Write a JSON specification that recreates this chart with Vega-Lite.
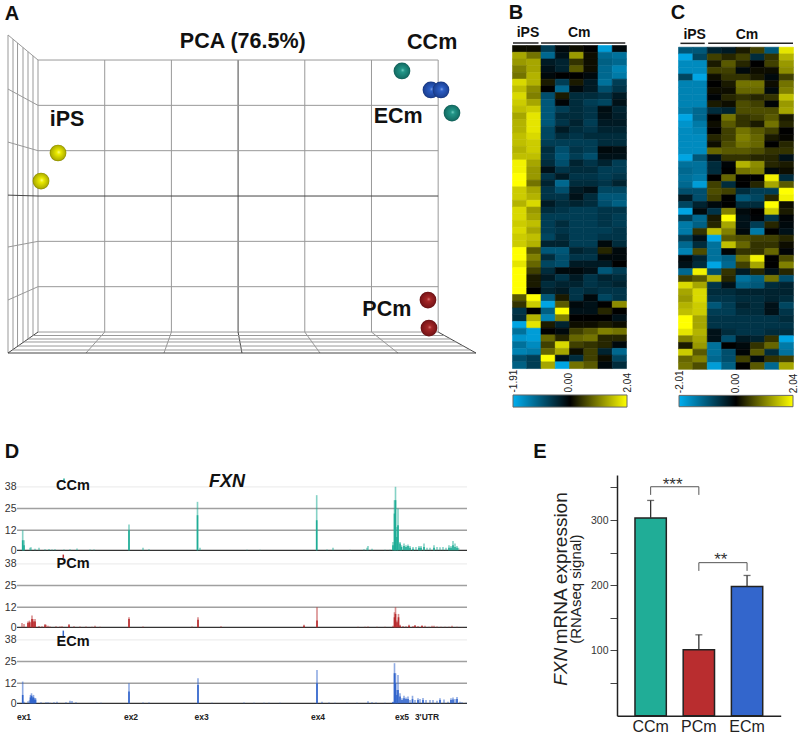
{"$schema":"https://vega.github.io/schema/vega-lite/v6.json","padding":0,"spacing":0,"bounds":"flush","columns":4,
"config":{"font":"Liberation Sans","view":{"stroke":null}},
"concat":[
{"width":512,"height":440,"layer":[
{"data":{"values":[
{"x":0,"y":0,"x2":0,"y2":6,"m":0},{"x":1,"y":0,"x2":1,"y2":6,"m":0},{"x":2,"y":0,"x2":2,"y2":6,"m":0},{"x":3,"y":0,"x2":3,"y2":6,"m":1},{"x":4,"y":0,"x2":4,"y2":6,"m":0},{"x":5,"y":0,"x2":5,"y2":6,"m":0},{"x":6,"y":0,"x2":6,"y2":6,"m":0},
{"x":0,"y":0,"x2":6,"y2":0,"m":0},{"x":0,"y":1,"x2":6,"y2":1,"m":0},{"x":0,"y":2,"x2":6,"y2":2,"m":0},{"x":0,"y":3,"x2":6,"y2":3,"m":1},{"x":0,"y":4,"x2":6,"y2":4,"m":0},{"x":0,"y":5,"x2":6,"y2":5,"m":0},{"x":0,"y":6,"x2":6,"y2":6,"m":0},
{"x":-0.45,"y":-0.463,"x2":-0.45,"y2":6.552,"m":0},{"x":-0.375,"y":-0.386,"x2":-0.375,"y2":6.46,"m":0},{"x":-0.307,"y":-0.316,"x2":-0.307,"y2":6.376,"m":0},{"x":-0.225,"y":-0.232,"x2":-0.225,"y2":6.276,"m":0},{"x":-0.15,"y":-0.154,"x2":-0.15,"y2":6.184,"m":0},{"x":-0.075,"y":-0.077,"x2":-0.075,"y2":6.092,"m":0},
{"x":-0.45,"y":6.552,"x2":0,"y2":6,"m":0},{"x":-0.45,"y":5.36,"x2":0,"y2":5,"m":0},{"x":-0.45,"y":4.19,"x2":0,"y2":4,"m":0},{"x":-0.45,"y":3.02,"x2":0,"y2":3,"m":1},{"x":-0.45,"y":1.875,"x2":0,"y2":2,"m":0},{"x":-0.45,"y":0.706,"x2":0,"y2":1,"m":0},{"x":-0.45,"y":-0.463,"x2":0,"y2":0,"m":1},
{"x":1,"y":0,"x2":0.72,"y2":-0.463,"m":0},{"x":2,"y":0,"x2":1.889,"y2":-0.463,"m":0},{"x":3,"y":0,"x2":3.058,"y2":-0.463,"m":1},{"x":4,"y":0,"x2":4.228,"y2":-0.463,"m":0},{"x":5,"y":0,"x2":5.397,"y2":-0.463,"m":0},{"x":6,"y":0,"x2":6.567,"y2":-0.463,"m":1},
{"x":-0.075,"y":-0.077,"x2":6.094,"y2":-0.077,"m":0},{"x":-0.15,"y":-0.154,"x2":6.189,"y2":-0.154,"m":0},{"x":-0.214,"y":-0.22,"x2":6.27,"y2":-0.22,"m":0},{"x":-0.3,"y":-0.309,"x2":6.378,"y2":-0.309,"m":0},{"x":-0.386,"y":-0.397,"x2":6.486,"y2":-0.397,"m":0},{"x":-0.45,"y":-0.463,"x2":6.567,"y2":-0.463,"m":1}
]},"mark":{"type":"rule","strokeWidth":1},"encoding":{"x":{"field":"x","type":"quantitative","scale":{"domain":[-0.57,7.107],"nice":false},"axis":null},"y":{"field":"y","type":"quantitative","scale":{"domain":[-2.382,7.324],"nice":false},"axis":null},"x2":{"field":"x2"},"y2":{"field":"y2"},"color":{"field":"m","type":"nominal","scale":{"domain":[0,1],"range":["#999999","#444444"]},"legend":null}}},
{"data":{"values":[{"x":5.457,"y":5.758},{"x":6.207,"y":4.831}]},"mark":{"type":"point","filled":true,"size":280,"opacity":1,"fill":{"gradient":"radial","x1":0.55,"y1":0.45,"r1":0,"x2":0.5,"y2":0.5,"r2":0.55,"stops":[{"offset":0,"color":"#8fe0d4"},{"offset":0.18,"color":"#23988a"},{"offset":0.8,"color":"#146f66"},{"offset":1,"color":"#0b4a44"}]}},"encoding":{"x":{"field":"x","type":"quantitative","scale":{"domain":[-0.57,7.107],"nice":false},"axis":null},"y":{"field":"y","type":"quantitative","scale":{"domain":[-2.382,7.324],"nice":false},"axis":null}}},
{"data":{"values":[{"x":5.892,"y":5.339},{"x":6.042,"y":5.339}]},"mark":{"type":"point","filled":true,"size":280,"opacity":1,"fill":{"gradient":"radial","x1":0.55,"y1":0.45,"r1":0,"x2":0.5,"y2":0.5,"r2":0.55,"stops":[{"offset":0,"color":"#9db8f2"},{"offset":0.18,"color":"#2d60c8"},{"offset":0.8,"color":"#1c4296"},{"offset":1,"color":"#0f2660"}]}},"encoding":{"x":{"field":"x","type":"quantitative","scale":{"domain":[-0.57,7.107],"nice":false},"axis":null},"y":{"field":"y","type":"quantitative","scale":{"domain":[-2.382,7.324],"nice":false},"axis":null}}},
{"data":{"values":[{"x":0.3,"y":3.949},{"x":0.045,"y":3.331}]},"mark":{"type":"point","filled":true,"size":280,"opacity":1,"fill":{"gradient":"radial","x1":0.55,"y1":0.45,"r1":0,"x2":0.5,"y2":0.5,"r2":0.55,"stops":[{"offset":0,"color":"#ffffa0"},{"offset":0.2,"color":"#eeee00"},{"offset":0.8,"color":"#b0b000"},{"offset":1,"color":"#5c5c00"}]}},"encoding":{"x":{"field":"x","type":"quantitative","scale":{"domain":[-0.57,7.107],"nice":false},"axis":null},"y":{"field":"y","type":"quantitative","scale":{"domain":[-2.382,7.324],"nice":false},"axis":null}}},
{"data":{"values":[{"x":5.847,"y":0.706},{"x":5.862,"y":0.088}]},"mark":{"type":"point","filled":true,"size":280,"opacity":1,"fill":{"gradient":"radial","x1":0.55,"y1":0.45,"r1":0,"x2":0.5,"y2":0.5,"r2":0.55,"stops":[{"offset":0,"color":"#e89090"},{"offset":0.18,"color":"#a82828"},{"offset":0.8,"color":"#7a1518"},{"offset":1,"color":"#4a0a0c"}]}},"encoding":{"x":{"field":"x","type":"quantitative","scale":{"domain":[-0.57,7.107],"nice":false},"axis":null},"y":{"field":"y","type":"quantitative","scale":{"domain":[-2.382,7.324],"nice":false},"axis":null}}},
{"data":{"values":[{"x":3.07,"y":6.4,"t":"PCA (76.5%)"},{"x":5.91,"y":6.375,"t":"CCm"},{"x":5.4,"y":4.74,"t":"ECm"},{"x":0.435,"y":4.68,"t":"iPS"},{"x":5.23,"y":0.485,"t":"PCm"}]},"mark":{"type":"text","fontWeight":"bold","fontSize":21.5,"align":"center","baseline":"middle","color":"#111"},"encoding":{"x":{"field":"x","type":"quantitative","scale":{"domain":[-0.57,7.107],"nice":false},"axis":null},"y":{"field":"y","type":"quantitative","scale":{"domain":[-2.382,7.324],"nice":false},"axis":null},"text":{"field":"t"}}},
{"data":{"values":[{"x":-0.39,"y":7.015,"t":"A"}]},"mark":{"type":"text","fontWeight":"bold","fontSize":20,"align":"center","baseline":"middle","color":"#111"},"encoding":{"x":{"field":"x","type":"quantitative","scale":{"domain":[-0.57,7.107],"nice":false},"axis":null},"y":{"field":"y","type":"quantitative","scale":{"domain":[-2.382,7.324],"nice":false},"axis":null},"text":{"field":"t"}}}
]},
{"width":114,"height":440,"resolve":{"scale":{"x":"independent"}},"layer":[
{"data":{"values":[
{"r":0,"c":0,"v":0.1},{"r":0,"c":1,"v":0.1},{"r":0,"c":2,"v":-0.7},{"r":0,"c":3,"v":-0.1},{"r":0,"c":4,"v":0.1},{"r":0,"c":5,"v":0},{"r":0,"c":6,"v":-1.8},{"r":0,"c":7,"v":-0.1},
{"r":1,"c":0,"v":1.3},{"r":1,"c":1,"v":0.9},{"r":1,"c":2,"v":-1.2},{"r":1,"c":3,"v":-0.2},{"r":1,"c":4,"v":1.2},{"r":1,"c":5,"v":0.1},{"r":1,"c":6,"v":-1.2},{"r":1,"c":7,"v":-1.3},
{"r":2,"c":0,"v":1.2},{"r":2,"c":1,"v":1.3},{"r":2,"c":2,"v":-0.3},{"r":2,"c":3,"v":-0.4},{"r":2,"c":4,"v":0.4},{"r":2,"c":5,"v":0.1},{"r":2,"c":6,"v":-1.1},{"r":2,"c":7,"v":-1.2},
{"r":3,"c":0,"v":1},{"r":3,"c":1,"v":1.3},{"r":3,"c":2,"v":-0.2},{"r":3,"c":3,"v":-0.4},{"r":3,"c":4,"v":0.7},{"r":3,"c":5,"v":0.1},{"r":3,"c":6,"v":-1.2},{"r":3,"c":7,"v":-1.5},
{"r":4,"c":0,"v":0.9},{"r":4,"c":1,"v":1.4},{"r":4,"c":2,"v":-0.1},{"r":4,"c":3,"v":0},{"r":4,"c":4,"v":0},{"r":4,"c":5,"v":-0.1},{"r":4,"c":6,"v":-1.2},{"r":4,"c":7,"v":-1.4},
{"r":5,"c":0,"v":1.7},{"r":5,"c":1,"v":1.4},{"r":5,"c":2,"v":0.2},{"r":5,"c":3,"v":-0.7},{"r":5,"c":4,"v":0.2},{"r":5,"c":5,"v":-0.3},{"r":5,"c":6,"v":-1.3},{"r":5,"c":7,"v":-0.7},
{"r":6,"c":0,"v":1.5},{"r":6,"c":1,"v":1.1},{"r":6,"c":2,"v":0},{"r":6,"c":3,"v":-1.2},{"r":6,"c":4,"v":-0.1},{"r":6,"c":5,"v":-0.3},{"r":6,"c":6,"v":-0.9},{"r":6,"c":7,"v":-0.6},
{"r":7,"c":0,"v":1.7},{"r":7,"c":1,"v":1},{"r":7,"c":2,"v":-0.9},{"r":7,"c":3,"v":0.2},{"r":7,"c":4,"v":-0.5},{"r":7,"c":5,"v":-0.5},{"r":7,"c":6,"v":-0.6},{"r":7,"c":7,"v":-0.3},
{"r":8,"c":0,"v":1.6},{"r":8,"c":1,"v":1.3},{"r":8,"c":2,"v":-1},{"r":8,"c":3,"v":-0.05},{"r":8,"c":4,"v":-0.5},{"r":8,"c":5,"v":-0.7},{"r":8,"c":6,"v":-0.8},{"r":8,"c":7,"v":-0.2},
{"r":9,"c":0,"v":1.5},{"r":9,"c":1,"v":1.6},{"r":9,"c":2,"v":-1},{"r":9,"c":3,"v":-0.7},{"r":9,"c":4,"v":-0.5},{"r":9,"c":5,"v":-0.6},{"r":9,"c":6,"v":-0.15},{"r":9,"c":7,"v":-0.4},
{"r":10,"c":0,"v":1.3},{"r":10,"c":1,"v":1.8},{"r":10,"c":2,"v":-1},{"r":10,"c":3,"v":-0.5},{"r":10,"c":4,"v":-0.5},{"r":10,"c":5,"v":-0.6},{"r":10,"c":6,"v":-0.2},{"r":10,"c":7,"v":-0.35},
{"r":11,"c":0,"v":1.4},{"r":11,"c":1,"v":1.8},{"r":11,"c":2,"v":-1},{"r":11,"c":3,"v":-0.6},{"r":11,"c":4,"v":-0.4},{"r":11,"c":5,"v":-0.7},{"r":11,"c":6,"v":-0.3},{"r":11,"c":7,"v":-0.3},
{"r":12,"c":0,"v":1.4},{"r":12,"c":1,"v":1.8},{"r":12,"c":2,"v":-0.8},{"r":12,"c":3,"v":-0.3},{"r":12,"c":4,"v":-0.5},{"r":12,"c":5,"v":-0.6},{"r":12,"c":6,"v":-0.4},{"r":12,"c":7,"v":-0.4},
{"r":13,"c":0,"v":1.5},{"r":13,"c":1,"v":1.7},{"r":13,"c":2,"v":-0.8},{"r":13,"c":3,"v":-0.5},{"r":13,"c":4,"v":-0.6},{"r":13,"c":5,"v":-0.5},{"r":13,"c":6,"v":-0.5},{"r":13,"c":7,"v":-0.5},
{"r":14,"c":0,"v":1.5},{"r":14,"c":1,"v":1.6},{"r":14,"c":2,"v":-0.7},{"r":14,"c":3,"v":-0.7},{"r":14,"c":4,"v":-0.7},{"r":14,"c":5,"v":-0.7},{"r":14,"c":6,"v":-0.5},{"r":14,"c":7,"v":-0.5},
{"r":15,"c":0,"v":1.4},{"r":15,"c":1,"v":1.6},{"r":15,"c":2,"v":-0.5},{"r":15,"c":3,"v":-0.9},{"r":15,"c":4,"v":-0.6},{"r":15,"c":5,"v":-0.7},{"r":15,"c":6,"v":-0.1},{"r":15,"c":7,"v":-0.15},
{"r":16,"c":0,"v":1.5},{"r":16,"c":1,"v":1.5},{"r":16,"c":2,"v":-0.6},{"r":16,"c":3,"v":-1},{"r":16,"c":4,"v":-0.7},{"r":16,"c":5,"v":-0.9},{"r":16,"c":6,"v":-0.2},{"r":16,"c":7,"v":-0.2},
{"r":17,"c":0,"v":1.9},{"r":17,"c":1,"v":1.3},{"r":17,"c":2,"v":-0.5},{"r":17,"c":3,"v":-0.9},{"r":17,"c":4,"v":-0.4},{"r":17,"c":5,"v":-0.6},{"r":17,"c":6,"v":-0.4},{"r":17,"c":7,"v":-0.7},
{"r":18,"c":0,"v":1.9},{"r":18,"c":1,"v":1.2},{"r":18,"c":2,"v":-0.2},{"r":18,"c":3,"v":-0.6},{"r":18,"c":4,"v":-0.5},{"r":18,"c":5,"v":-0.5},{"r":18,"c":6,"v":-0.7},{"r":18,"c":7,"v":-0.7},
{"r":19,"c":0,"v":2},{"r":19,"c":1,"v":1.2},{"r":19,"c":2,"v":-0.6},{"r":19,"c":3,"v":-0.3},{"r":19,"c":4,"v":-0.6},{"r":19,"c":5,"v":-0.6},{"r":19,"c":6,"v":-0.7},{"r":19,"c":7,"v":-0.6},
{"r":20,"c":0,"v":2},{"r":20,"c":1,"v":0.9},{"r":20,"c":2,"v":-0.4},{"r":20,"c":3,"v":-1.2},{"r":20,"c":4,"v":-0.5},{"r":20,"c":5,"v":-0.5},{"r":20,"c":6,"v":-0.6},{"r":20,"c":7,"v":-0.4},
{"r":21,"c":0,"v":1.6},{"r":21,"c":1,"v":1.3},{"r":21,"c":2,"v":-0.6},{"r":21,"c":3,"v":-0.9},{"r":21,"c":4,"v":-0.3},{"r":21,"c":5,"v":-0.2},{"r":21,"c":6,"v":-0.8},{"r":21,"c":7,"v":-0.8},
{"r":22,"c":0,"v":1.6},{"r":22,"c":1,"v":1.4},{"r":22,"c":2,"v":-0.6},{"r":22,"c":3,"v":-0.6},{"r":22,"c":4,"v":-0.2},{"r":22,"c":5,"v":-0.5},{"r":22,"c":6,"v":-1},{"r":22,"c":7,"v":-1},
{"r":23,"c":0,"v":1.4},{"r":23,"c":1,"v":1.7},{"r":23,"c":2,"v":-0.3},{"r":23,"c":3,"v":-0.5},{"r":23,"c":4,"v":-0.4},{"r":23,"c":5,"v":-0.5},{"r":23,"c":6,"v":-0.9},{"r":23,"c":7,"v":-1.1},
{"r":24,"c":0,"v":1.7},{"r":24,"c":1,"v":1.2},{"r":24,"c":2,"v":-0.5},{"r":24,"c":3,"v":-0.6},{"r":24,"c":4,"v":-0.7},{"r":24,"c":5,"v":-0.7},{"r":24,"c":6,"v":-0.6},{"r":24,"c":7,"v":-0.6},
{"r":25,"c":0,"v":1.7},{"r":25,"c":1,"v":1.3},{"r":25,"c":2,"v":-0.7},{"r":25,"c":3,"v":-0.7},{"r":25,"c":4,"v":-0.7},{"r":25,"c":5,"v":-0.7},{"r":25,"c":6,"v":-0.6},{"r":25,"c":7,"v":-0.7},
{"r":26,"c":0,"v":1.6},{"r":26,"c":1,"v":1.5},{"r":26,"c":2,"v":-0.7},{"r":26,"c":3,"v":-0.5},{"r":26,"c":4,"v":-0.7},{"r":26,"c":5,"v":-0.7},{"r":26,"c":6,"v":-0.6},{"r":26,"c":7,"v":-0.7},
{"r":27,"c":0,"v":1.7},{"r":27,"c":1,"v":1.3},{"r":27,"c":2,"v":-0.7},{"r":27,"c":3,"v":-0.6},{"r":27,"c":4,"v":-0.7},{"r":27,"c":5,"v":-0.7},{"r":27,"c":6,"v":-0.7},{"r":27,"c":7,"v":-0.6},
{"r":28,"c":0,"v":1.6},{"r":28,"c":1,"v":1.5},{"r":28,"c":2,"v":-0.8},{"r":28,"c":3,"v":-0.5},{"r":28,"c":4,"v":-0.7},{"r":28,"c":5,"v":-0.7},{"r":28,"c":6,"v":-0.6},{"r":28,"c":7,"v":-0.6},
{"r":29,"c":0,"v":1.6},{"r":29,"c":1,"v":1.4},{"r":29,"c":2,"v":-0.4},{"r":29,"c":3,"v":-0.4},{"r":29,"c":4,"v":-0.7},{"r":29,"c":5,"v":-0.7},{"r":29,"c":6,"v":-0.1},{"r":29,"c":7,"v":-0.5},
{"r":30,"c":0,"v":2},{"r":30,"c":1,"v":0.7},{"r":30,"c":2,"v":-1},{"r":30,"c":3,"v":-1},{"r":30,"c":4,"v":-0.4},{"r":30,"c":5,"v":-0.5},{"r":30,"c":6,"v":0.3},{"r":30,"c":7,"v":-0.1},
{"r":31,"c":0,"v":2},{"r":31,"c":1,"v":1},{"r":31,"c":2,"v":-0.5},{"r":31,"c":3,"v":-0.9},{"r":31,"c":4,"v":-0.6},{"r":31,"c":5,"v":-0.6},{"r":31,"c":6,"v":-0.1},{"r":31,"c":7,"v":-0.1},
{"r":32,"c":0,"v":1.8},{"r":32,"c":1,"v":0.8},{"r":32,"c":2,"v":-0.8},{"r":32,"c":3,"v":-0.9},{"r":32,"c":4,"v":-0.3},{"r":32,"c":5,"v":-0.3},{"r":32,"c":6,"v":-0.3},{"r":32,"c":7,"v":0},
{"r":33,"c":0,"v":2},{"r":33,"c":1,"v":0.5},{"r":33,"c":2,"v":-0.5},{"r":33,"c":3,"v":-0.1},{"r":33,"c":4,"v":-0.1},{"r":33,"c":5,"v":-0.2},{"r":33,"c":6,"v":-1},{"r":33,"c":7,"v":-0.7},
{"r":34,"c":0,"v":2},{"r":34,"c":1,"v":0.2},{"r":34,"c":2,"v":-0.3},{"r":34,"c":3,"v":-0.6},{"r":34,"c":4,"v":-0.3},{"r":34,"c":5,"v":-0.6},{"r":34,"c":6,"v":-0.4},{"r":34,"c":7,"v":-0.5},
{"r":35,"c":0,"v":2},{"r":35,"c":1,"v":0.2},{"r":35,"c":2,"v":-0.5},{"r":35,"c":3,"v":-0.4},{"r":35,"c":4,"v":-0.4},{"r":35,"c":5,"v":-0.6},{"r":35,"c":6,"v":-0.5},{"r":35,"c":7,"v":-0.4},
{"r":36,"c":0,"v":2},{"r":36,"c":1,"v":0},{"r":36,"c":2,"v":-0.4},{"r":36,"c":3,"v":-0.3},{"r":36,"c":4,"v":-0.6},{"r":36,"c":5,"v":-0.5},{"r":36,"c":6,"v":-0.6},{"r":36,"c":7,"v":-0.6},
{"r":37,"c":0,"v":0.7},{"r":37,"c":1,"v":2},{"r":37,"c":2,"v":-1},{"r":37,"c":3,"v":0.2},{"r":37,"c":4,"v":-0.6},{"r":37,"c":5,"v":-0.1},{"r":37,"c":6,"v":-0.8},{"r":37,"c":7,"v":-0.6},
{"r":38,"c":0,"v":0.4},{"r":38,"c":1,"v":1.6},{"r":38,"c":2,"v":-1.9},{"r":38,"c":3,"v":0.7},{"r":38,"c":4,"v":-0.1},{"r":38,"c":5,"v":-0.2},{"r":38,"c":6,"v":0},{"r":38,"c":7,"v":1.1},
{"r":39,"c":0,"v":-0.6},{"r":39,"c":1,"v":0},{"r":39,"c":2,"v":-1.1},{"r":39,"c":3,"v":2},{"r":39,"c":4,"v":-0.2},{"r":39,"c":5,"v":-0.2},{"r":39,"c":6,"v":0.3},{"r":39,"c":7,"v":0},
{"r":40,"c":0,"v":-0.5},{"r":40,"c":1,"v":1.4},{"r":40,"c":2,"v":-1.5},{"r":40,"c":3,"v":1},{"r":40,"c":4,"v":0},{"r":40,"c":5,"v":0},{"r":40,"c":6,"v":0},{"r":40,"c":7,"v":-0.2},
{"r":41,"c":0,"v":-1.9},{"r":41,"c":1,"v":1.8},{"r":41,"c":2,"v":0.2},{"r":41,"c":3,"v":-0.4},{"r":41,"c":4,"v":0.1},{"r":41,"c":5,"v":0.1},{"r":41,"c":6,"v":0.2},{"r":41,"c":7,"v":0.1},
{"r":42,"c":0,"v":-1.3},{"r":42,"c":1,"v":-1.8},{"r":42,"c":2,"v":0},{"r":42,"c":3,"v":-0.1},{"r":42,"c":4,"v":0.5},{"r":42,"c":5,"v":0.7},{"r":42,"c":6,"v":1},{"r":42,"c":7,"v":0.9},
{"r":43,"c":0,"v":-1.7},{"r":43,"c":1,"v":-1.8},{"r":43,"c":2,"v":0.8},{"r":43,"c":3,"v":0.3},{"r":43,"c":4,"v":0.8},{"r":43,"c":5,"v":0.9},{"r":43,"c":6,"v":0.3},{"r":43,"c":7,"v":0.3},
{"r":44,"c":0,"v":-1.3},{"r":44,"c":1,"v":-1.6},{"r":44,"c":2,"v":0.5},{"r":44,"c":3,"v":1.7},{"r":44,"c":4,"v":0.5},{"r":44,"c":5,"v":0.4},{"r":44,"c":6,"v":0.3},{"r":44,"c":7,"v":-0.1},
{"r":45,"c":0,"v":-1.5},{"r":45,"c":1,"v":-1.4},{"r":45,"c":2,"v":0.8},{"r":45,"c":3,"v":1.3},{"r":45,"c":4,"v":0.1},{"r":45,"c":5,"v":0.5},{"r":45,"c":6,"v":-0.4},{"r":45,"c":7,"v":-1.2},
{"r":46,"c":0,"v":-0.9},{"r":46,"c":1,"v":-0.7},{"r":46,"c":2,"v":2},{"r":46,"c":3,"v":-0.2},{"r":46,"c":4,"v":-0.5},{"r":46,"c":5,"v":0.5},{"r":46,"c":6,"v":0.1},{"r":46,"c":7,"v":-0.8},
{"r":47,"c":0,"v":-1.1},{"r":47,"c":1,"v":-0.7},{"r":47,"c":2,"v":1.3},{"r":47,"c":3,"v":-1.9},{"r":47,"c":4,"v":0.9},{"r":47,"c":5,"v":0.7},{"r":47,"c":6,"v":-0.1},{"r":47,"c":7,"v":-0.5}
]},"mark":{"type":"rect","strokeWidth":0.6},"encoding":{"x":{"field":"c","bin":{"step":1,"extent":[0,8]},"type":"quantitative","scale":{"domain":[0,8],"nice":false},"axis":null},"y":{"field":"r","bin":{"step":1,"extent":[0,48]},"type":"quantitative","scale":{"domain":[-6.687,58.69],"nice":false,"reverse":true},"axis":null},"color":{"field":"v","type":"quantitative","scale":{"domain":[-2,0,2],"range":["#00AEEF","#000000","#FFFF00"],"interpolate":"rgb"},"legend":null},"stroke":{"field":"v","type":"quantitative","scale":{"domain":[-2,0,2],"range":["#00AEEF","#000000","#FFFF00"],"interpolate":"rgb"},"legend":null}}},
{"data":{"values":[{"a":0.07,"b":1.86,"y":-0.3},{"a":2.04,"b":7.95,"y":-0.3}]},"mark":{"type":"rule","strokeWidth":1.5,"color":"#222"},"encoding":{"x":{"field":"a","type":"quantitative","scale":{"domain":[0,8],"nice":false},"axis":null},"x2":{"field":"b"},"y":{"field":"y","type":"quantitative","scale":{"domain":[-6.687,58.69],"nice":false,"reverse":true},"axis":null}}},
{"data":{"values":[{"x":1.12,"y":-1.78,"t":"iPS"},{"x":4.72,"y":-1.78,"t":"Cm"}]},"mark":{"type":"text","fontWeight":"bold","fontSize":14,"align":"center","baseline":"middle","color":"#111"},"encoding":{"x":{"field":"x","type":"quantitative","scale":{"domain":[0,8],"nice":false},"axis":null},"y":{"field":"y","type":"quantitative","scale":{"domain":[-6.687,58.69],"nice":false,"reverse":true},"axis":null},"text":{"field":"t"}}},
{"data":{"values":[{"x":0.28,"y":-4.75,"t":"B"}]},"mark":{"type":"text","fontWeight":"bold","fontSize":20,"align":"center","baseline":"middle","color":"#111"},"encoding":{"x":{"field":"x","type":"quantitative","scale":{"domain":[0,8],"nice":false},"axis":null},"y":{"field":"y","type":"quantitative","scale":{"domain":[-6.687,58.69],"nice":false,"reverse":true},"axis":null},"text":{"field":"t"}}},
{"data":{"values":[{"lo":-1.91,"hi":2.04,"a":52,"b":53.8}]},"mark":{"type":"rect","stroke":"#666","fill":{"gradient":"linear","x1":0,"x2":1,"y1":0,"y2":0,"stops":[{"offset":0,"color":"#00AEEF"},{"offset":0.5,"color":"#000000"},{"offset":1,"color":"#FFFF00"}]}},"encoding":{"x":{"field":"lo","type":"quantitative","scale":{"domain":[-1.91,2.04],"nice":false,"range":[1,115]},"axis":{"orient":"top","offset":-395,"values":[-1.91,0,2.04],"format":".2f","labelExpr":"datum.value<0?'-1.91':datum.label","labelAngle":-90,"title":null,"domain":false,"ticks":false,"grid":false,"labelFontSize":10,"labelPadding":3,"labelColor":"#222"}},"x2":{"field":"hi"},"y":{"field":"a","type":"quantitative","scale":{"domain":[-6.687,58.69],"nice":false,"reverse":true},"axis":null},"y2":{"field":"b"}}}
]},
{"width":52,"height":0,"data":{"values":[]},"mark":"point","encoding":{}},
{"width":115,"height":440,"resolve":{"scale":{"x":"independent"}},"layer":[
{"data":{"values":[
{"r":0,"c":0,"v":-1},{"r":0,"c":1,"v":-1},{"r":0,"c":2,"v":-0.4},{"r":0,"c":3,"v":-0.3},{"r":0,"c":4,"v":0.2},{"r":0,"c":5,"v":0.5},{"r":0,"c":6,"v":-1},{"r":0,"c":7,"v":1.8},
{"r":1,"c":0,"v":-1.9},{"r":1,"c":1,"v":-0.8},{"r":1,"c":2,"v":0.5},{"r":1,"c":3,"v":0.3},{"r":1,"c":4,"v":0.5},{"r":1,"c":5,"v":-0.5},{"r":1,"c":6,"v":0.4},{"r":1,"c":7,"v":1.4},
{"r":2,"c":0,"v":-1.6},{"r":2,"c":1,"v":-1.6},{"r":2,"c":2,"v":0.2},{"r":2,"c":3,"v":0.7},{"r":2,"c":4,"v":0.3},{"r":2,"c":5,"v":0},{"r":2,"c":6,"v":0.5},{"r":2,"c":7,"v":1.2},
{"r":3,"c":0,"v":-1.6},{"r":3,"c":1,"v":-1.6},{"r":3,"c":2,"v":0.5},{"r":3,"c":3,"v":0.5},{"r":3,"c":4,"v":-0.1},{"r":3,"c":5,"v":0.1},{"r":3,"c":6,"v":0.1},{"r":3,"c":7,"v":1.1},
{"r":4,"c":0,"v":-0.8},{"r":4,"c":1,"v":-1.9},{"r":4,"c":2,"v":0.1},{"r":4,"c":3,"v":0.4},{"r":4,"c":4,"v":0.4},{"r":4,"c":5,"v":0.2},{"r":4,"c":6,"v":-0.1},{"r":4,"c":7,"v":0.5},
{"r":5,"c":0,"v":-1.5},{"r":5,"c":1,"v":-1.5},{"r":5,"c":2,"v":0},{"r":5,"c":3,"v":0.2},{"r":5,"c":4,"v":0.9},{"r":5,"c":5,"v":0.9},{"r":5,"c":6,"v":0.1},{"r":5,"c":7,"v":0.9},
{"r":6,"c":0,"v":-1.5},{"r":6,"c":1,"v":-1.5},{"r":6,"c":2,"v":0.1},{"r":6,"c":3,"v":0.1},{"r":6,"c":4,"v":0.8},{"r":6,"c":5,"v":0.8},{"r":6,"c":6,"v":-0.1},{"r":6,"c":7,"v":1},
{"r":7,"c":0,"v":-1.5},{"r":7,"c":1,"v":-1.5},{"r":7,"c":2,"v":-0.05},{"r":7,"c":3,"v":0.3},{"r":7,"c":4,"v":0.4},{"r":7,"c":5,"v":0.3},{"r":7,"c":6,"v":0.4},{"r":7,"c":7,"v":1.5},
{"r":8,"c":0,"v":-1.5},{"r":8,"c":1,"v":-1.5},{"r":8,"c":2,"v":0.2},{"r":8,"c":3,"v":0.1},{"r":8,"c":4,"v":0.6},{"r":8,"c":5,"v":0.5},{"r":8,"c":6,"v":-0.05},{"r":8,"c":7,"v":1.2},
{"r":9,"c":0,"v":-1.4},{"r":9,"c":1,"v":-1.2},{"r":9,"c":2,"v":-0.5},{"r":9,"c":3,"v":-0.4},{"r":9,"c":4,"v":0.6},{"r":9,"c":5,"v":0.6},{"r":9,"c":6,"v":0.6},{"r":9,"c":7,"v":1.3},
{"r":10,"c":0,"v":-1.9},{"r":10,"c":1,"v":-1.2},{"r":10,"c":2,"v":0},{"r":10,"c":3,"v":0.9},{"r":10,"c":4,"v":0.4},{"r":10,"c":5,"v":0.5},{"r":10,"c":6,"v":0.7},{"r":10,"c":7,"v":0.2},
{"r":11,"c":0,"v":-1.7},{"r":11,"c":1,"v":-1.4},{"r":11,"c":2,"v":0.1},{"r":11,"c":3,"v":0.7},{"r":11,"c":4,"v":0.4},{"r":11,"c":5,"v":0.2},{"r":11,"c":6,"v":0.9},{"r":11,"c":7,"v":0.3},
{"r":12,"c":0,"v":-1.6},{"r":12,"c":1,"v":-1.5},{"r":12,"c":2,"v":0},{"r":12,"c":3,"v":0.5},{"r":12,"c":4,"v":0.9},{"r":12,"c":5,"v":0.7},{"r":12,"c":6,"v":0.5},{"r":12,"c":7,"v":0},
{"r":13,"c":0,"v":-1.6},{"r":13,"c":1,"v":-1.6},{"r":13,"c":2,"v":0.3},{"r":13,"c":3,"v":0.5},{"r":13,"c":4,"v":1},{"r":13,"c":5,"v":0.8},{"r":13,"c":6,"v":0.2},{"r":13,"c":7,"v":0.05},
{"r":14,"c":0,"v":-1.6},{"r":14,"c":1,"v":-1.6},{"r":14,"c":2,"v":0.1},{"r":14,"c":3,"v":0.6},{"r":14,"c":4,"v":0.9},{"r":14,"c":5,"v":0.8},{"r":14,"c":6,"v":0},{"r":14,"c":7,"v":0.3},
{"r":15,"c":0,"v":-1.6},{"r":15,"c":1,"v":-1.6},{"r":15,"c":2,"v":0.8},{"r":15,"c":3,"v":0.7},{"r":15,"c":4,"v":0.7},{"r":15,"c":5,"v":0.6},{"r":15,"c":6,"v":0.4},{"r":15,"c":7,"v":0.4},
{"r":16,"c":0,"v":-1.9},{"r":16,"c":1,"v":-1},{"r":16,"c":2,"v":-0.2},{"r":16,"c":3,"v":0.4},{"r":16,"c":4,"v":0.4},{"r":16,"c":5,"v":0.3},{"r":16,"c":6,"v":0.3},{"r":16,"c":7,"v":-0.2},
{"r":17,"c":0,"v":-1.3},{"r":17,"c":1,"v":-1.3},{"r":17,"c":2,"v":-0.5},{"r":17,"c":3,"v":-0.05},{"r":17,"c":4,"v":1.4},{"r":17,"c":5,"v":1.1},{"r":17,"c":6,"v":0.3},{"r":17,"c":7,"v":0.2},
{"r":18,"c":0,"v":-1.2},{"r":18,"c":1,"v":-1.3},{"r":18,"c":2,"v":-0.5},{"r":18,"c":3,"v":0},{"r":18,"c":4,"v":0.9},{"r":18,"c":5,"v":1},{"r":18,"c":6,"v":-0.1},{"r":18,"c":7,"v":0.1},
{"r":19,"c":0,"v":-1.3},{"r":19,"c":1,"v":-1.4},{"r":19,"c":2,"v":0},{"r":19,"c":3,"v":0.8},{"r":19,"c":4,"v":0},{"r":19,"c":5,"v":0},{"r":19,"c":6,"v":1.9},{"r":19,"c":7,"v":-0.5},
{"r":20,"c":0,"v":-1.2},{"r":20,"c":1,"v":-1.8},{"r":20,"c":2,"v":0.5},{"r":20,"c":3,"v":-0.5},{"r":20,"c":4,"v":0},{"r":20,"c":5,"v":0.3},{"r":20,"c":6,"v":1.3},{"r":20,"c":7,"v":0.7},
{"r":21,"c":0,"v":-0.9},{"r":21,"c":1,"v":-0.9},{"r":21,"c":2,"v":0.6},{"r":21,"c":3,"v":0.5},{"r":21,"c":4,"v":-0.5},{"r":21,"c":5,"v":-0.7},{"r":21,"c":6,"v":-0.7},{"r":21,"c":7,"v":2},
{"r":22,"c":0,"v":-0.3},{"r":22,"c":1,"v":-0.9},{"r":22,"c":2,"v":0.5},{"r":22,"c":3,"v":0},{"r":22,"c":4,"v":-1},{"r":22,"c":5,"v":-0.8},{"r":22,"c":6,"v":0.3},{"r":22,"c":7,"v":1.9},
{"r":23,"c":0,"v":-0.8},{"r":23,"c":1,"v":-0.4},{"r":23,"c":2,"v":-0.1},{"r":23,"c":3,"v":0},{"r":23,"c":4,"v":-0.5},{"r":23,"c":5,"v":-0.5},{"r":23,"c":6,"v":2},{"r":23,"c":7,"v":0.1},
{"r":24,"c":0,"v":-1.9},{"r":24,"c":1,"v":-0.1},{"r":24,"c":2,"v":-0.6},{"r":24,"c":3,"v":1},{"r":24,"c":4,"v":-0.1},{"r":24,"c":5,"v":0},{"r":24,"c":6,"v":1.6},{"r":24,"c":7,"v":0.2},
{"r":25,"c":0,"v":-0.7},{"r":25,"c":1,"v":-1.2},{"r":25,"c":2,"v":0.2},{"r":25,"c":3,"v":2},{"r":25,"c":4,"v":-0.2},{"r":25,"c":5,"v":-0.05},{"r":25,"c":6,"v":-0.6},{"r":25,"c":7,"v":-0.05},
{"r":26,"c":0,"v":-1.4},{"r":26,"c":1,"v":-1.1},{"r":26,"c":2,"v":0.3},{"r":26,"c":3,"v":1.3},{"r":26,"c":4,"v":-0.2},{"r":26,"c":5,"v":-0.7},{"r":26,"c":6,"v":0.3},{"r":26,"c":7,"v":-0.1},
{"r":27,"c":0,"v":-1.4},{"r":27,"c":1,"v":0.4},{"r":27,"c":2,"v":1.5},{"r":27,"c":3,"v":1},{"r":27,"c":4,"v":-0.1},{"r":27,"c":5,"v":-1.4},{"r":27,"c":6,"v":0},{"r":27,"c":7,"v":-0.2},
{"r":28,"c":0,"v":-0.7},{"r":28,"c":1,"v":-0.2},{"r":28,"c":2,"v":-1.9},{"r":28,"c":3,"v":0.7},{"r":28,"c":4,"v":0.6},{"r":28,"c":5,"v":0.5},{"r":28,"c":6,"v":0.5},{"r":28,"c":7,"v":0.3},
{"r":29,"c":0,"v":-1.2},{"r":29,"c":1,"v":-0.5},{"r":29,"c":2,"v":-1.3},{"r":29,"c":3,"v":1.5},{"r":29,"c":4,"v":0.8},{"r":29,"c":5,"v":0.4},{"r":29,"c":6,"v":0.4},{"r":29,"c":7,"v":0.1},
{"r":30,"c":0,"v":-1.5},{"r":30,"c":1,"v":0.6},{"r":30,"c":2,"v":-1.3},{"r":30,"c":3,"v":-0.05},{"r":30,"c":4,"v":0.4},{"r":30,"c":5,"v":0.4},{"r":30,"c":6,"v":0.8},{"r":30,"c":7,"v":-0.05},
{"r":31,"c":0,"v":-0.1},{"r":31,"c":1,"v":-0.4},{"r":31,"c":2,"v":-1.3},{"r":31,"c":3,"v":-1.1},{"r":31,"c":4,"v":0.9},{"r":31,"c":5,"v":1.9},{"r":31,"c":6,"v":0},{"r":31,"c":7,"v":0.6},
{"r":32,"c":0,"v":-0.2},{"r":32,"c":1,"v":-0.5},{"r":32,"c":2,"v":-1.9},{"r":32,"c":3,"v":-1.2},{"r":32,"c":4,"v":0.5},{"r":32,"c":5,"v":1.3},{"r":32,"c":6,"v":0},{"r":32,"c":7,"v":1},
{"r":33,"c":0,"v":-1.2},{"r":33,"c":1,"v":1.9},{"r":33,"c":2,"v":-0.9},{"r":33,"c":3,"v":0.4},{"r":33,"c":4,"v":-0.3},{"r":33,"c":5,"v":0.3},{"r":33,"c":6,"v":-0.2},{"r":33,"c":7,"v":0.3},
{"r":34,"c":0,"v":0.5},{"r":34,"c":1,"v":0.7},{"r":34,"c":2,"v":1.4},{"r":34,"c":3,"v":0.3},{"r":34,"c":4,"v":-1.3},{"r":34,"c":5,"v":-1.1},{"r":34,"c":6,"v":0.9},{"r":34,"c":7,"v":-0.9},
{"r":35,"c":0,"v":1.7},{"r":35,"c":1,"v":1.3},{"r":35,"c":2,"v":-0.6},{"r":35,"c":3,"v":-0.2},{"r":35,"c":4,"v":-1.1},{"r":35,"c":5,"v":-1},{"r":35,"c":6,"v":-0.5},{"r":35,"c":7,"v":-0.4},
{"r":36,"c":0,"v":1.3},{"r":36,"c":1,"v":1.7},{"r":36,"c":2,"v":-0.5},{"r":36,"c":3,"v":-0.5},{"r":36,"c":4,"v":-0.4},{"r":36,"c":5,"v":-0.4},{"r":36,"c":6,"v":-0.4},{"r":36,"c":7,"v":-0.4},
{"r":37,"c":0,"v":1.2},{"r":37,"c":1,"v":1.7},{"r":37,"c":2,"v":-0.6},{"r":37,"c":3,"v":-0.6},{"r":37,"c":4,"v":-0.5},{"r":37,"c":5,"v":-0.5},{"r":37,"c":6,"v":-0.4},{"r":37,"c":7,"v":-0.5},
{"r":38,"c":0,"v":1.4},{"r":38,"c":1,"v":1.6},{"r":38,"c":2,"v":-1},{"r":38,"c":3,"v":-0.7},{"r":38,"c":4,"v":-0.4},{"r":38,"c":5,"v":-0.5},{"r":38,"c":6,"v":-0.2},{"r":38,"c":7,"v":-0.8},
{"r":39,"c":0,"v":1.5},{"r":39,"c":1,"v":1.6},{"r":39,"c":2,"v":-0.7},{"r":39,"c":3,"v":-0.7},{"r":39,"c":4,"v":-0.5},{"r":39,"c":5,"v":-0.5},{"r":39,"c":6,"v":-0.2},{"r":39,"c":7,"v":-0.6},
{"r":40,"c":0,"v":2},{"r":40,"c":1,"v":1.3},{"r":40,"c":2,"v":-0.6},{"r":40,"c":3,"v":-0.6},{"r":40,"c":4,"v":-0.6},{"r":40,"c":5,"v":-0.6},{"r":40,"c":6,"v":-0.6},{"r":40,"c":7,"v":-0.5},
{"r":41,"c":0,"v":2},{"r":41,"c":1,"v":1.3},{"r":41,"c":2,"v":-0.6},{"r":41,"c":3,"v":-0.6},{"r":41,"c":4,"v":-0.6},{"r":41,"c":5,"v":-0.6},{"r":41,"c":6,"v":-0.6},{"r":41,"c":7,"v":-0.6},
{"r":42,"c":0,"v":1.8},{"r":42,"c":1,"v":1.4},{"r":42,"c":2,"v":-0.2},{"r":42,"c":3,"v":-0.5},{"r":42,"c":4,"v":-0.6},{"r":42,"c":5,"v":-0.6},{"r":42,"c":6,"v":-0.5},{"r":42,"c":7,"v":-0.5},
{"r":43,"c":0,"v":1},{"r":43,"c":1,"v":1.3},{"r":43,"c":2,"v":-0.2},{"r":43,"c":3,"v":-0.9},{"r":43,"c":4,"v":-0.3},{"r":43,"c":5,"v":-0.4},{"r":43,"c":6,"v":0.4},{"r":43,"c":7,"v":-1.9},
{"r":44,"c":0,"v":0.2},{"r":44,"c":1,"v":1.2},{"r":44,"c":2,"v":-1.3},{"r":44,"c":3,"v":0},{"r":44,"c":4,"v":-0.1},{"r":44,"c":5,"v":0.4},{"r":44,"c":6,"v":0.8},{"r":44,"c":7,"v":-1.4},
{"r":45,"c":0,"v":1.6},{"r":45,"c":1,"v":0.7},{"r":45,"c":2,"v":-1.3},{"r":45,"c":3,"v":-0.9},{"r":45,"c":4,"v":-0.05},{"r":45,"c":5,"v":0.7},{"r":45,"c":6,"v":-0.5},{"r":45,"c":7,"v":-1.3},
{"r":46,"c":0,"v":0.8},{"r":46,"c":1,"v":1},{"r":46,"c":2,"v":-1.2},{"r":46,"c":3,"v":-0.9},{"r":46,"c":4,"v":0.5},{"r":46,"c":5,"v":-0.1},{"r":46,"c":6,"v":0.4},{"r":46,"c":7,"v":0.5},
{"r":47,"c":0,"v":0.9},{"r":47,"c":1,"v":0.6},{"r":47,"c":2,"v":-1.8},{"r":47,"c":3,"v":-1.1},{"r":47,"c":4,"v":0},{"r":47,"c":5,"v":0.7},{"r":47,"c":6,"v":-1.2},{"r":47,"c":7,"v":1.3}
]},"mark":{"type":"rect","strokeWidth":0.6},"encoding":{"x":{"field":"c","bin":{"step":1,"extent":[0,8]},"type":"quantitative","scale":{"domain":[0,8],"nice":false},"axis":null},"y":{"field":"r","bin":{"step":1,"extent":[0,48]},"type":"quantitative","scale":{"domain":[-6.96,58.61],"nice":false,"reverse":true},"axis":null},"color":{"field":"v","type":"quantitative","scale":{"domain":[-2,0,2],"range":["#00AEEF","#000000","#FFFF00"],"interpolate":"rgb"},"legend":null},"stroke":{"field":"v","type":"quantitative","scale":{"domain":[-2,0,2],"range":["#00AEEF","#000000","#FFFF00"],"interpolate":"rgb"},"legend":null}}},
{"data":{"values":[{"a":0.17,"b":1.86,"y":-0.5},{"a":2.1,"b":8,"y":-0.5}]},"mark":{"type":"rule","strokeWidth":1.5,"color":"#222"},"encoding":{"x":{"field":"a","type":"quantitative","scale":{"domain":[0,8],"nice":false},"axis":null},"x2":{"field":"b"},"y":{"field":"y","type":"quantitative","scale":{"domain":[-6.96,58.61],"nice":false,"reverse":true},"axis":null}}},
{"data":{"values":[{"x":1.16,"y":-1.74,"t":"iPS"},{"x":4.8,"y":-1.74,"t":"Cm"}]},"mark":{"type":"text","fontWeight":"bold","fontSize":14,"align":"center","baseline":"middle","color":"#111"},"encoding":{"x":{"field":"x","type":"quantitative","scale":{"domain":[0,8],"nice":false},"axis":null},"y":{"field":"y","type":"quantitative","scale":{"domain":[-6.96,58.61],"nice":false,"reverse":true},"axis":null},"text":{"field":"t"}}},
{"data":{"values":[{"x":0,"y":-5,"t":"C"}]},"mark":{"type":"text","fontWeight":"bold","fontSize":20,"align":"center","baseline":"middle","color":"#111"},"encoding":{"x":{"field":"x","type":"quantitative","scale":{"domain":[0,8],"nice":false},"axis":null},"y":{"field":"y","type":"quantitative","scale":{"domain":[-6.96,58.61],"nice":false,"reverse":true},"axis":null},"text":{"field":"t"}}},
{"data":{"values":[{"lo":-2.01,"hi":2.04,"a":51.96,"b":53.65}]},"mark":{"type":"rect","stroke":"#666","fill":{"gradient":"linear","x1":0,"x2":1,"y1":0,"y2":0,"stops":[{"offset":0,"color":"#00AEEF"},{"offset":0.5,"color":"#000000"},{"offset":1,"color":"#FFFF00"}]}},"encoding":{"x":{"field":"lo","type":"quantitative","scale":{"domain":[-2.01,2.04],"nice":false,"range":[1,115]},"axis":{"orient":"top","offset":-395.7,"values":[-2.01,0,2.04],"format":".2f","labelExpr":"datum.value<0?'-2.01':datum.label","labelAngle":-90,"title":null,"domain":false,"ticks":false,"grid":false,"labelFontSize":10,"labelPadding":3,"labelColor":"#222"}},"x2":{"field":"hi"},"y":{"field":"a","type":"quantitative","scale":{"domain":[-6.96,58.61],"nice":false,"reverse":true},"axis":null},"y2":{"field":"b"}}}
]},
{"width":512,"height":295,"resolve":{"scale":{"y":"independent"}},"layer":[
{"layer":[
{"data":{"values":[{"v":0,"a":1.7,"b":46.7},{"v":12,"a":1.7,"b":46.7},{"v":25,"a":1.7,"b":46.7},{"v":38,"a":1.7,"b":46.7}]},"mark":{"type":"rule","strokeWidth":1.3},"encoding":{"x":{"field":"a","type":"quantitative","scale":{"domain":[0,51.2],"nice":false},"axis":null},"x2":{"field":"b"},"y":{"field":"v","type":"quantitative","scale":{"domain":[0,38],"range":[110.3,46.8],"nice":false},"axis":{"orient":"left","offset":-17,"values":[0,12,25,38],"title":null,"domain":false,"ticks":false,"grid":false,"labelFontSize":10.5,"labelColor":"#333","labelPadding":1}},"color":{"field":"v","type":"ordinal","scale":{"domain":[0,12,25,38],"range":["#333333","#a0a0a0","#a0a0a0","#eeeeee"]},"legend":null}}},
{"data":{"values":[{"x":2.27,"hi":12,"lo":6},{"x":2.4,"hi":6,"lo":3},{"x":3,"hi":1.5,"lo":1},{"x":3.1,"hi":1.8,"lo":1},{"x":3.5,"hi":1,"lo":0.5},{"x":3.9,"hi":1.5,"lo":1},{"x":4.5,"hi":0.6,"lo":0.4},{"x":4.9,"hi":0.8,"lo":0.5},{"x":5.2,"hi":0.5,"lo":0.3},{"x":5.5,"hi":0.6,"lo":0.4},{"x":6.4,"hi":0.5,"lo":0.3},{"x":7,"hi":0.6,"lo":0.4},{"x":7.7,"hi":1.1,"lo":0.7},{"x":9,"hi":0.5,"lo":0.3},{"x":9.4,"hi":0.5,"lo":0.3},{"x":12.9,"hi":15.5,"lo":12},{"x":14.3,"hi":1.5,"lo":0.8},{"x":14.9,"hi":0.7,"lo":0.4},{"x":19.75,"hi":29,"lo":21},{"x":20,"hi":1.5,"lo":1},{"x":24.7,"hi":0.3,"lo":0.2},{"x":26,"hi":0.3,"lo":0.2},{"x":31.67,"hi":33,"lo":18},{"x":32.7,"hi":0.5,"lo":0.3},{"x":33.3,"hi":1.5,"lo":1},{"x":35,"hi":0.3,"lo":0.2},{"x":36.4,"hi":0.6,"lo":0.4},{"x":36.7,"hi":1.5,"lo":1},{"x":36.8,"hi":2.5,"lo":1.5},{"x":37.2,"hi":1,"lo":0.6},{"x":38.5,"hi":0.4,"lo":0.2},{"x":39,"hi":0.4,"lo":0.2},
{"x":39.3,"hi":5,"lo":3},{"x":39.45,"hi":30,"lo":22},{"x":39.55,"hi":38,"lo":30},{"x":39.7,"hi":14,"lo":8},{"x":39.8,"hi":25,"lo":15},{"x":40,"hi":5,"lo":4},{"x":40.15,"hi":3,"lo":2},{"x":40.4,"hi":4,"lo":2.5},{"x":40.6,"hi":3,"lo":2},{"x":40.8,"hi":3.5,"lo":2.5},{"x":41,"hi":2.5,"lo":1.5},{"x":41.3,"hi":2,"lo":1},{"x":41.6,"hi":2,"lo":1.2},{"x":41.9,"hi":2.5,"lo":1.5},{"x":42.1,"hi":2.5,"lo":1.5},{"x":42.4,"hi":4,"lo":2},{"x":42.7,"hi":1.5,"lo":1},{"x":43,"hi":1.5,"lo":1},{"x":43.4,"hi":3,"lo":1.5},{"x":43.7,"hi":2,"lo":1.2},{"x":44,"hi":1.8,"lo":1},{"x":44.3,"hi":2,"lo":1},{"x":44.6,"hi":1.5,"lo":0.8},{"x":44.9,"hi":3,"lo":1.5},{"x":45.1,"hi":2.5,"lo":1.5},{"x":45.3,"hi":5.5,"lo":3},{"x":45.5,"hi":4,"lo":2},{"x":45.7,"hi":2.5,"lo":1.5},{"x":45.85,"hi":1.5,"lo":1}]},"mark":{"type":"rule","strokeWidth":1.6,"color":"#20AD97","opacity":0.55},"encoding":{"x":{"field":"x","type":"quantitative","scale":{"domain":[0,51.2],"nice":false},"axis":null},"y":{"field":"hi","type":"quantitative","scale":{"domain":[0,38],"range":[110.3,46.8],"nice":false}},"y2":{"datum":0}}},
{"data":{"values":[{"x":2.27,"lo":6},{"x":2.4,"lo":3},{"x":12.9,"lo":12},{"x":19.75,"lo":21},{"x":31.67,"lo":18},{"x":39.3,"lo":3},{"x":39.45,"lo":22},{"x":39.55,"lo":30},{"x":39.7,"lo":8},{"x":39.8,"lo":15},{"x":40,"lo":4},{"x":40.15,"lo":2},{"x":40.4,"lo":2.5},{"x":40.6,"lo":2},{"x":40.8,"lo":2.5},{"x":41,"lo":1.5},{"x":41.3,"lo":1},{"x":41.9,"lo":1.5},{"x":42.1,"lo":1.5},{"x":42.4,"lo":2},{"x":43.4,"lo":1.5},{"x":44.9,"lo":1.5},{"x":45.1,"lo":1.5},{"x":45.3,"lo":3},{"x":45.5,"lo":2},{"x":45.7,"lo":1.5}]},"mark":{"type":"rule","strokeWidth":1.6,"color":"#20AD97"},"encoding":{"x":{"field":"x","type":"quantitative","scale":{"domain":[0,51.2],"nice":false},"axis":null},"y":{"field":"lo","type":"quantitative","scale":{"domain":[0,38],"range":[110.3,46.8],"nice":false}},"y2":{"datum":0}}},
{"data":{"values":[{"x":6.4,"a":41,"b":43}]},"mark":{"type":"rule","strokeWidth":1.5,"color":"#20AD97"},"encoding":{"x":{"field":"x","type":"quantitative","scale":{"domain":[0,51.2],"nice":false},"axis":null},"y":{"field":"a","type":"quantitative","scale":{"domain":[0,38],"range":[110.3,46.8],"nice":false}},"y2":{"field":"b"}}},
{"data":{"values":[{"x":7.3,"y":38.5,"t":"CCm"}]},"mark":{"type":"text","fontWeight":"bold","fontSize":14.5,"align":"center","baseline":"middle","color":"#111"},"encoding":{"x":{"field":"x","type":"quantitative","scale":{"domain":[0,51.2],"nice":false},"axis":null},"y":{"field":"y","type":"quantitative","scale":{"domain":[0,38],"range":[110.3,46.8],"nice":false}},"text":{"field":"t"}}},
{"data":{"values":[{"x":22.7,"y":41,"t":"FXN"}]},"mark":{"type":"text","fontWeight":"bold","fontStyle":"italic","fontSize":18,"align":"center","baseline":"middle","color":"#111"},"encoding":{"x":{"field":"x","type":"quantitative","scale":{"domain":[0,51.2],"nice":false},"axis":null},"y":{"field":"y","type":"quantitative","scale":{"domain":[0,38],"range":[110.3,46.8],"nice":false}},"text":{"field":"t"}}},
{"data":{"values":[{"x":1.2,"y":58.8,"t":"D"}]},"mark":{"type":"text","fontWeight":"bold","fontSize":20,"align":"center","baseline":"middle","color":"#111"},"encoding":{"x":{"field":"x","type":"quantitative","scale":{"domain":[0,51.2],"nice":false},"axis":null},"y":{"field":"y","type":"quantitative","scale":{"domain":[0,38],"range":[110.3,46.8],"nice":false}},"text":{"field":"t"}}}
]},
{"layer":[
{"data":{"values":[{"v":0,"a":1.7,"b":46.7},{"v":12,"a":1.7,"b":46.7},{"v":25,"a":1.7,"b":46.7},{"v":38,"a":1.7,"b":46.7}]},"mark":{"type":"rule","strokeWidth":1.3},"encoding":{"x":{"field":"a","type":"quantitative","scale":{"domain":[0,51.2],"nice":false},"axis":null},"x2":{"field":"b"},"y":{"field":"v","type":"quantitative","scale":{"domain":[0,38],"range":[187.3,123.8],"nice":false},"axis":{"orient":"left","offset":-17,"values":[0,12,25,38],"title":null,"domain":false,"ticks":false,"grid":false,"labelFontSize":10.5,"labelColor":"#333","labelPadding":1}},"color":{"field":"v","type":"ordinal","scale":{"domain":[0,12,25,38],"range":["#333333","#a0a0a0","#a0a0a0","#eeeeee"]},"legend":null}}},
{"data":{"values":[{"x":2.2,"hi":2.5},{"x":2.4,"hi":2},{"x":2.8,"hi":3.5},{"x":2.95,"hi":4},{"x":3.1,"hi":3},{"x":3.2,"hi":7},{"x":3.3,"hi":5},{"x":3.45,"hi":3.5},{"x":3.5,"hi":5},{"x":3.9,"hi":0.8},{"x":4.2,"hi":0.6},{"x":4.5,"hi":2},{"x":4.6,"hi":1.5},{"x":4.8,"hi":1},{"x":5,"hi":0.5},{"x":5.6,"hi":0.7},{"x":6,"hi":0.5},{"x":6.2,"hi":0.6},{"x":6.9,"hi":2},{"x":7.4,"hi":0.6},{"x":8,"hi":0.5},{"x":8.6,"hi":0.5},{"x":9.2,"hi":0.4},{"x":9.5,"hi":1},{"x":10,"hi":0.3},{"x":12.9,"hi":6},{"x":14.3,"hi":0.5},{"x":19.2,"hi":0.5},{"x":19.8,"hi":6},{"x":22.1,"hi":0.7},{"x":30.4,"hi":1.6},{"x":31.7,"hi":12},{"x":35.8,"hi":0.3},{"x":36.5,"hi":0.4},{"x":36.8,"hi":0.5},{"x":37.7,"hi":0.4},{"x":38.5,"hi":0.4},{"x":39.3,"hi":1},{"x":39.45,"hi":9},{"x":39.55,"hi":12},{"x":39.7,"hi":4},{"x":39.85,"hi":8},{"x":40,"hi":1.5},{"x":40.3,"hi":0.8},{"x":40.6,"hi":0.7},{"x":40.9,"hi":1.5},{"x":41.3,"hi":0.8},{"x":41.5,"hi":1.4},{"x":41.8,"hi":0.8},{"x":42.2,"hi":1.2},{"x":42.5,"hi":1},{"x":42.9,"hi":0.4},{"x":43.2,"hi":1},{"x":43.4,"hi":0.9},{"x":43.7,"hi":0.5},{"x":44.1,"hi":0.4},{"x":44.5,"hi":0.4},{"x":44.9,"hi":0.4},{"x":45.2,"hi":0.9},{"x":45.7,"hi":0.3},{"x":46.2,"hi":0.2}]},"mark":{"type":"rule","strokeWidth":1.6,"color":"#B92D2F","opacity":0.55},"encoding":{"x":{"field":"x","type":"quantitative","scale":{"domain":[0,51.2],"nice":false},"axis":null},"y":{"field":"hi","type":"quantitative","scale":{"domain":[0,38],"range":[187.3,123.8],"nice":false}},"y2":{"datum":0}}},
{"data":{"values":[{"x":2.8,"lo":2.5},{"x":2.95,"lo":3},{"x":3.2,"lo":5},{"x":3.3,"lo":3.5},{"x":3.5,"lo":3.5},{"x":4.5,"lo":1.2},{"x":6.9,"lo":1.2},{"x":12.9,"lo":5},{"x":19.8,"lo":4.5},{"x":30.4,"lo":1},{"x":31.7,"lo":4},{"x":39.45,"lo":6},{"x":39.55,"lo":8},{"x":39.7,"lo":3},{"x":39.85,"lo":6},{"x":40,"lo":1},{"x":40.9,"lo":1},{"x":41.5,"lo":1},{"x":42.2,"lo":0.8}]},"mark":{"type":"rule","strokeWidth":1.6,"color":"#B92D2F"},"encoding":{"x":{"field":"x","type":"quantitative","scale":{"domain":[0,51.2],"nice":false},"axis":null},"y":{"field":"lo","type":"quantitative","scale":{"domain":[0,38],"range":[187.3,123.8],"nice":false}},"y2":{"datum":0}}},
{"data":{"values":[{"x":6.33,"a":41.5,"b":43.5}]},"mark":{"type":"rule","strokeWidth":1.5,"color":"#B92D2F"},"encoding":{"x":{"field":"x","type":"quantitative","scale":{"domain":[0,51.2],"nice":false},"axis":null},"y":{"field":"a","type":"quantitative","scale":{"domain":[0,38],"range":[187.3,123.8],"nice":false}},"y2":{"field":"b"}}},
{"data":{"values":[{"x":7.3,"y":37.9,"t":"PCm"}]},"mark":{"type":"text","fontWeight":"bold","fontSize":14.5,"align":"center","baseline":"middle","color":"#111"},"encoding":{"x":{"field":"x","type":"quantitative","scale":{"domain":[0,51.2],"nice":false},"axis":null},"y":{"field":"y","type":"quantitative","scale":{"domain":[0,38],"range":[187.3,123.8],"nice":false}},"text":{"field":"t"}}}
]},
{"layer":[
{"data":{"values":[{"v":0,"a":1.7,"b":46.7},{"v":12,"a":1.7,"b":46.7},{"v":25,"a":1.7,"b":46.7},{"v":38,"a":1.7,"b":46.7}]},"mark":{"type":"rule","strokeWidth":1.3},"encoding":{"x":{"field":"a","type":"quantitative","scale":{"domain":[0,51.2],"nice":false},"axis":null},"x2":{"field":"b"},"y":{"field":"v","type":"quantitative","scale":{"domain":[0,38],"range":[263.3,199.8],"nice":false},"axis":{"orient":"left","offset":-17,"values":[0,12,25,38],"title":null,"domain":false,"ticks":false,"grid":false,"labelFontSize":10.5,"labelColor":"#333","labelPadding":1}},"color":{"field":"v","type":"ordinal","scale":{"domain":[0,12,25,38],"range":["#333333","#a0a0a0","#a0a0a0","#eeeeee"]},"legend":null}}},
{"data":{"values":[{"x":2.27,"hi":13},{"x":2.4,"hi":1},{"x":2.8,"hi":1.3},{"x":2.95,"hi":1.8},{"x":3.05,"hi":5},{"x":3.15,"hi":6},{"x":3.25,"hi":4},{"x":3.35,"hi":5},{"x":3.45,"hi":3},{"x":3.55,"hi":3.2},{"x":4.1,"hi":0.6},{"x":4.6,"hi":0.6},{"x":4.8,"hi":0.7},{"x":5,"hi":0.4},{"x":5.4,"hi":0.7},{"x":5.7,"hi":1},{"x":6.6,"hi":0.7},{"x":7,"hi":1.5},{"x":7.2,"hi":1.4},{"x":7.6,"hi":0.6},{"x":9.7,"hi":0.4},{"x":10.1,"hi":0.4},{"x":12.9,"hi":12},{"x":14.3,"hi":0.5},{"x":14.9,"hi":0.5},{"x":19.8,"hi":15},{"x":21.2,"hi":0.4},{"x":24.4,"hi":0.5},{"x":25.4,"hi":0.4},{"x":26.4,"hi":0.4},{"x":26.9,"hi":0.3},{"x":28,"hi":0.3},{"x":31.7,"hi":20},{"x":32.2,"hi":1},{"x":32.9,"hi":0.5},{"x":33.5,"hi":0.4},{"x":34.7,"hi":0.4},{"x":35.7,"hi":0.4},{"x":36.8,"hi":1.2},{"x":37.2,"hi":0.6},{"x":37.6,"hi":0.5},{"x":38.5,"hi":0.4},{"x":39.3,"hi":1},{"x":39.45,"hi":24},{"x":39.55,"hi":18},{"x":39.7,"hi":8},{"x":39.8,"hi":17},{"x":40,"hi":6},{"x":40.2,"hi":3},{"x":40.4,"hi":4.5},{"x":40.6,"hi":3.5},{"x":40.8,"hi":4},{"x":41,"hi":2},{"x":41.25,"hi":4.5},{"x":41.5,"hi":2},{"x":41.8,"hi":3},{"x":42,"hi":2.5},{"x":42.3,"hi":3.2},{"x":42.6,"hi":2},{"x":43,"hi":2},{"x":43.3,"hi":2},{"x":43.7,"hi":1.5},{"x":44,"hi":3},{"x":44.4,"hi":2.2},{"x":44.8,"hi":1},{"x":45.1,"hi":3},{"x":45.3,"hi":3.5},{"x":45.5,"hi":2.5},{"x":45.7,"hi":3.8},{"x":46,"hi":1},{"x":46.2,"hi":0.6},{"x":46.6,"hi":0.3}]},"mark":{"type":"rule","strokeWidth":1.6,"color":"#3366CC","opacity":0.55},"encoding":{"x":{"field":"x","type":"quantitative","scale":{"domain":[0,51.2],"nice":false},"axis":null},"y":{"field":"hi","type":"quantitative","scale":{"domain":[0,38],"range":[263.3,199.8],"nice":false}},"y2":{"datum":0}}},
{"data":{"values":[{"x":2.27,"lo":5},{"x":3.05,"lo":3.5},{"x":3.15,"lo":4.5},{"x":3.25,"lo":3},{"x":3.35,"lo":3.5},{"x":3.45,"lo":2},{"x":3.55,"lo":2.2},{"x":12.9,"lo":7},{"x":19.8,"lo":11},{"x":31.7,"lo":12},{"x":39.3,"lo":0.7},{"x":39.45,"lo":18},{"x":39.55,"lo":12},{"x":39.7,"lo":5},{"x":39.8,"lo":8},{"x":40,"lo":4},{"x":40.2,"lo":2},{"x":40.4,"lo":3},{"x":40.6,"lo":2.5},{"x":40.8,"lo":2.5},{"x":41.25,"lo":2.5},{"x":41.8,"lo":2},{"x":42.3,"lo":2},{"x":44,"lo":2},{"x":45.1,"lo":2},{"x":45.3,"lo":2.2},{"x":45.7,"lo":2.5}]},"mark":{"type":"rule","strokeWidth":1.6,"color":"#3366CC"},"encoding":{"x":{"field":"x","type":"quantitative","scale":{"domain":[0,51.2],"nice":false},"axis":null},"y":{"field":"lo","type":"quantitative","scale":{"domain":[0,38],"range":[263.3,199.8],"nice":false}},"y2":{"datum":0}}},
{"data":{"values":[{"x":6.33,"a":39.5,"b":43.5}]},"mark":{"type":"rule","strokeWidth":1.5,"color":"#3366CC"},"encoding":{"x":{"field":"x","type":"quantitative","scale":{"domain":[0,51.2],"nice":false},"axis":null},"y":{"field":"a","type":"quantitative","scale":{"domain":[0,38],"range":[263.3,199.8],"nice":false}},"y2":{"field":"b"}}},
{"data":{"values":[{"x":7.3,"y":36.8,"t":"ECm"}]},"mark":{"type":"text","fontWeight":"bold","fontSize":14.5,"align":"center","baseline":"middle","color":"#111"},"encoding":{"x":{"field":"x","type":"quantitative","scale":{"domain":[0,51.2],"nice":false},"axis":null},"y":{"field":"y","type":"quantitative","scale":{"domain":[0,38],"range":[263.3,199.8],"nice":false}},"text":{"field":"t"}}},
{"data":{"values":[{"x":2.4,"y":-8.2,"t":"ex1"},{"x":13.1,"y":-8.2,"t":"ex2"},{"x":20.17,"y":-8.2,"t":"ex3"},{"x":31.8,"y":-8.2,"t":"ex4"},{"x":40.2,"y":-8.2,"t":"ex5"},{"x":42.7,"y":-8.2,"t":"3'UTR"}]},"mark":{"type":"text","fontWeight":"bold","fontSize":8.5,"align":"center","baseline":"middle","color":"#222"},"encoding":{"x":{"field":"x","type":"quantitative","scale":{"domain":[0,51.2],"nice":false},"axis":null},"y":{"field":"y","type":"quantitative","scale":{"domain":[0,38],"range":[263.3,199.8],"nice":false}},"text":{"field":"t"}}}
]}
]},
{"width":114,"height":295,"layer":[
{"data":{"values":[{"g":"CCm","v":303},{"g":"PCm","v":101},{"g":"ECm","v":198}]},"mark":{"type":"bar","stroke":"#222","strokeWidth":1.5},"encoding":{"x":{"field":"g","type":"nominal","sort":["CCm","PCm","ECm"],"scale":{"type":"band","paddingInner":0.35,"paddingOuter":0.373,"range":[105,268.7]},"axis":{"title":null,"orient":"bottom","offset":-19.3,"labelAngle":0,"labelFontSize":16,"labelColor":"#222","ticks":false,"domainWidth":1.5,"domainColor":"#222","labelPadding":3}},"y":{"field":"v","type":"quantitative","scale":{"domain":[0,369],"range":[275.7,35],"nice":false},"axis":{"title":null,"orient":"left","offset":-105,"values":[50,100,150,200,250,300,350],"labelExpr":"datum.value%100==0?datum.label:''","grid":false,"domainWidth":1.5,"domainColor":"#222","tickColor":"#444","tickSize":7,"labelFontSize":10.5,"labelColor":"#333"}},"color":{"field":"g","type":"nominal","scale":{"domain":["CCm","PCm","ECm"],"range":["#20AD97","#B92D2F","#3366CC"]},"legend":null}}},
{"data":{"values":[{"g":"CCm","v":303,"hi":330},{"g":"PCm","v":101,"hi":124},{"g":"ECm","v":198,"hi":215}]},"mark":{"type":"rule","color":"#333","strokeWidth":1.3},"encoding":{"x":{"field":"g","type":"nominal","sort":["CCm","PCm","ECm"],"scale":{"type":"band","paddingInner":0.35,"paddingOuter":0.373,"range":[105,268.7]}},"y":{"field":"v","type":"quantitative","scale":{"domain":[0,369],"range":[275.7,35],"nice":false}},"y2":{"field":"hi"}}},
{"data":{"values":[{"g":"CCm","hi":330},{"g":"PCm","hi":124},{"g":"ECm","hi":215}]},"mark":{"type":"tick","color":"#333","thickness":1.3,"size":7,"orient":"horizontal"},"encoding":{"x":{"field":"g","type":"nominal","sort":["CCm","PCm","ECm"],"scale":{"type":"band","paddingInner":0.35,"paddingOuter":0.373,"range":[105,268.7]}},"y":{"field":"hi","type":"quantitative","scale":{"domain":[0,369],"range":[275.7,35],"nice":false}}}},
{"data":{"values":[{"g":"CCm","y":338.5,"b":1,"o":0},{"g":"CCm","y":351,"b":1,"o":1},{"g":"PCm","y":351,"b":1,"o":2},{"g":"PCm","y":338.5,"b":1,"o":3},{"g":"PCm","y":222,"b":2,"o":0},{"g":"PCm","y":234.6,"b":2,"o":1},{"g":"ECm","y":234.6,"b":2,"o":2},{"g":"ECm","y":222,"b":2,"o":3}]},"mark":{"type":"line","color":"#555","strokeWidth":1},"encoding":{"x":{"field":"g","type":"nominal","sort":["CCm","PCm","ECm"],"scale":{"type":"band","paddingInner":0.35,"paddingOuter":0.373,"range":[105,268.7]}},"y":{"field":"y","type":"quantitative","scale":{"domain":[0,369],"range":[275.7,35],"nice":false}},"detail":{"field":"b"},"order":{"field":"o"}}},
{"data":{"values":[{"g":"CCm","y":354,"t":"***"},{"g":"PCm","y":239,"t":"**"}]},"mark":{"type":"text","dx":22,"fontSize":17,"align":"center","baseline":"middle","color":"#333"},"encoding":{"x":{"field":"g","type":"nominal","sort":["CCm","PCm","ECm"],"scale":{"type":"band","paddingInner":0.35,"paddingOuter":0.373,"range":[105,268.7]}},"y":{"field":"y","type":"quantitative","scale":{"domain":[0,369],"range":[275.7,35],"nice":false}},"text":{"field":"t"}}},
{"data":{"values":[{"g":"CCm","y":404,"t":"E"}]},"mark":{"type":"text","dx":-110.6,"fontWeight":"bold","fontSize":20,"align":"center","baseline":"middle","color":"#111"},"encoding":{"x":{"field":"g","type":"nominal","sort":["CCm","PCm","ECm"],"scale":{"type":"band","paddingInner":0.35,"paddingOuter":0.373,"range":[105,268.7]}},"y":{"field":"y","type":"quantitative","scale":{"domain":[0,369],"range":[275.7,35],"nice":false}},"text":{"field":"t"}}},
{"data":{"values":[{"g":"CCm","y":75,"t":"FXN"}]},"mark":{"type":"text","angle":270,"dy":-90,"fontStyle":"italic","fontSize":19,"align":"center","baseline":"middle","color":"#222"},"encoding":{"x":{"field":"g","type":"nominal","sort":["CCm","PCm","ECm"],"scale":{"type":"band","paddingInner":0.35,"paddingOuter":0.373,"range":[105,268.7]}},"y":{"field":"y","type":"quantitative","scale":{"domain":[0,369],"range":[275.7,35],"nice":false}},"text":{"field":"t"}}},
{"data":{"values":[{"g":"CCm","y":226,"t":"mRNA expression"}]},"mark":{"type":"text","angle":270,"dy":-90,"fontSize":19,"align":"center","baseline":"middle","color":"#222"},"encoding":{"x":{"field":"g","type":"nominal","sort":["CCm","PCm","ECm"],"scale":{"type":"band","paddingInner":0.35,"paddingOuter":0.373,"range":[105,268.7]}},"y":{"field":"y","type":"quantitative","scale":{"domain":[0,369],"range":[275.7,35],"nice":false}},"text":{"field":"t"}}},
{"data":{"values":[{"g":"CCm","y":194,"t":"(RNAseq signal)"}]},"mark":{"type":"text","angle":270,"dy":-74.6,"fontSize":15,"align":"center","baseline":"middle","color":"#222"},"encoding":{"x":{"field":"g","type":"nominal","sort":["CCm","PCm","ECm"],"scale":{"type":"band","paddingInner":0.35,"paddingOuter":0.373,"range":[105,268.7]}},"y":{"field":"y","type":"quantitative","scale":{"domain":[0,369],"range":[275.7,35],"nice":false}},"text":{"field":"t"}}}
]}
]}
